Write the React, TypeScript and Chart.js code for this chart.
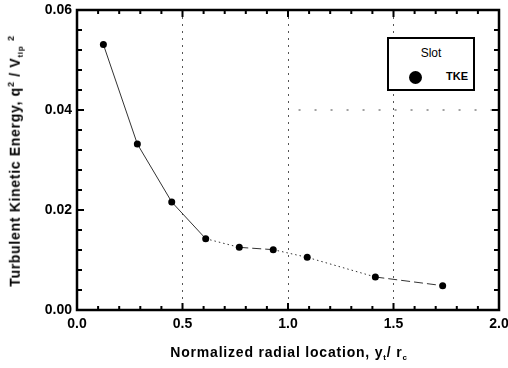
import React, { useEffect, useRef } from "react";
import { Chart, registerables } from "chart.js";

Chart.register(...registerables);

// Data
const radialLocation = [0.125, 0.286, 0.449, 0.61, 0.769, 0.93, 1.091, 1.414, 1.733];
const tkeValues = [0.0531, 0.0332, 0.0216, 0.01426, 0.01253, 0.01207, 0.01053, 0.0066, 0.00487];
// partial horizontal dotted grid segment visible at 0.04
const refLineX = [1.05, 2.0];
const refLineY = [0.04, 0.04];
// axis ranges / ticks
const xRange = [0, 2.0];
const yRange = [0, 0.06];
const xMinorStep = 0.1;
const xMajorEvery = 5;
const yMinorStep = 0.004;
const yMajorEvery = 5;
const xGridValues = [0.5, 1.0, 1.5];

const FONT = "'Liberation Sans', Arial, Helvetica, sans-serif";

const isMajor = (v: number, step: number, every: number) =>
  Math.round(v / step) % every === 0;

const frameTicksPlugin = {
  id: "frameTicks",
  afterDatasetsDraw(chart: any) {
    const { ctx, chartArea } = chart;
    const { left, right, top, bottom } = chartArea;
    const xs = chart.scales.x;
    const ys = chart.scales.y;
    ctx.save();
    ctx.strokeStyle = "#000";
    ctx.lineWidth = 2;
    ctx.beginPath();
    xs.ticks.forEach((t: any) => {
      const px = xs.getPixelForValue(t.value);
      const len = isMajor(t.value, xMinorStep, xMajorEvery) ? 7 : 4;
      ctx.moveTo(px, bottom);
      ctx.lineTo(px, bottom - len);
      ctx.moveTo(px, top);
      ctx.lineTo(px, top + len);
    });
    ys.ticks.forEach((t: any) => {
      const py = ys.getPixelForValue(t.value);
      const len = isMajor(t.value, yMinorStep, yMajorEvery) ? 7 : 5;
      ctx.moveTo(left, py);
      ctx.lineTo(left + len, py);
      ctx.moveTo(right, py);
      ctx.lineTo(right - len, py);
    });
    ctx.stroke();
    ctx.lineWidth = 2.5;
    ctx.strokeRect(left, top, right - left, bottom - top);
    ctx.restore();
  },
};

export default function App() {
  const canvasRef = useRef<HTMLCanvasElement | null>(null);

  useEffect(() => {
    document.body.style.margin = "0";
    const canvas = canvasRef.current;
    if (!canvas) return;
    const chart = new Chart(canvas, {
      type: "line",
      data: {
        datasets: [
          {
            label: "TKE",
            data: radialLocation.map((x, i) => ({ x, y: tkeValues[i] })),
            borderColor: "#333",
            borderWidth: 1,
            pointRadius: 3.5,
            pointBackgroundColor: "#000",
            pointBorderColor: "#000",
            pointBorderWidth: 0,
            tension: 0,
            segment: {
              borderDash: (ctx: any) => {
                const i = ctx.p0DataIndex;
                if (i < 3) return [];
                if (i === 4 || i === 7) return [9, 4];
                return [1.5, 3];
              },
            },
          },
          {
            label: "grid",
            data: refLineX.map((x, i) => ({ x, y: refLineY[i] })),
            borderColor: "#444",
            borderWidth: 1,
            borderDash: [2, 14],
            pointRadius: 0,
          },
        ],
      },
      options: {
        animation: false,
        responsive: false,
        maintainAspectRatio: false,
        layout: { padding: { top: 10, right: 9, left: 0, bottom: 0 } },
        plugins: {
          legend: { display: false },
          tooltip: { enabled: false },
        },
        scales: {
          x: {
            type: "linear",
            min: xRange[0],
            max: xRange[1],
            afterFit: (s: any) => {
              s.height = 58;
              s.paddingLeft = 0;
              s.paddingRight = 0;
            },
            ticks: {
              stepSize: xMinorStep,
              autoSkip: false,
              maxRotation: 0,
              padding: 6,
              color: "#000",
              font: { family: FONT, size: 14, weight: "bold" },
              callback: (v: any) =>
                isMajor(Number(v), xMinorStep, xMajorEvery) ? Number(v).toFixed(1) : "",
            },
            grid: {
              drawTicks: false,
              color: (ctx: any) =>
                ctx.tick && xGridValues.some((g) => Math.abs(g - ctx.tick.value) < 1e-6)
                  ? "#555"
                  : "rgba(0,0,0,0)",
              lineWidth: 1,
            },
            border: { display: false, dash: [2, 5] },
          },
          y: {
            type: "linear",
            min: yRange[0],
            max: yRange[1],
            afterFit: (s: any) => {
              s.width = 77;
              s.paddingTop = 0;
              s.paddingBottom = 0;
            },
            ticks: {
              stepSize: yMinorStep,
              autoSkip: false,
              padding: 5,
              color: "#000",
              font: { family: FONT, size: 14, weight: "bold" },
              callback: (v: any) =>
                isMajor(Number(v), yMinorStep, yMajorEvery) ? Number(v).toFixed(2) : "",
            },
            grid: { drawTicks: false, drawOnChartArea: false },
            border: { display: false },
          },
        },
      },
      plugins: [frameTicksPlugin],
    });
    return () => chart.destroy();
  }, []);

  return (
    <div style={{ position: "absolute", left: 0, top: 0, width: 508, height: 368, background: "#fff", fontFamily: FONT }}>
      <canvas ref={canvasRef} width={508} height={368} style={{ display: "block" }} />
      {/* Legend */}
      <div
        style={{
          position: "absolute",
          left: 387,
          top: 37,
          width: 84,
          height: 50,
          border: "2px solid #000",
          background: "#fff",
        }}
      >
        <div style={{ position: "absolute", top: 7, left: 0, width: "100%", textAlign: "center", fontSize: 12 }}>Slot</div>
        <div
          style={{
            position: "absolute",
            left: 20,
            top: 32,
            width: 13,
            height: 13,
            borderRadius: "50%",
            background: "#000",
          }}
        />
        <div style={{ position: "absolute", left: 57, top: 31, fontSize: 11, fontWeight: "bold" }}>TKE</div>
      </div>
      {/* Y axis title */}
      <div
        style={{
          position: "absolute",
          left: 16,
          top: 161,
          transform: "translate(-50%, -50%) rotate(-90deg)",
          whiteSpace: "nowrap",
          fontSize: 14,
          fontWeight: "bold",
          letterSpacing: 0.7,
          lineHeight: "16px",
        }}
      >
        Turbulent Kinetic Energy, q<sup style={{ fontSize: 9 }}>2</sup> / V<sub style={{ fontSize: 8 }}>tip</sub>{" "}
        <sup style={{ fontSize: 9 }}>2</sup>
      </div>
      {/* X axis title */}
      <div
        style={{
          position: "absolute",
          left: 289,
          top: 355,
          transform: "translate(-50%, -50%)",
          whiteSpace: "nowrap",
          fontSize: 14,
          fontWeight: "bold",
          letterSpacing: 0.8,
          lineHeight: "16px",
        }}
      >
        Normalized radial location, y<sub style={{ fontSize: 8 }}>t</sub>/ r<sub style={{ fontSize: 8 }}>c</sub>
      </div>
    </div>
  );
}
